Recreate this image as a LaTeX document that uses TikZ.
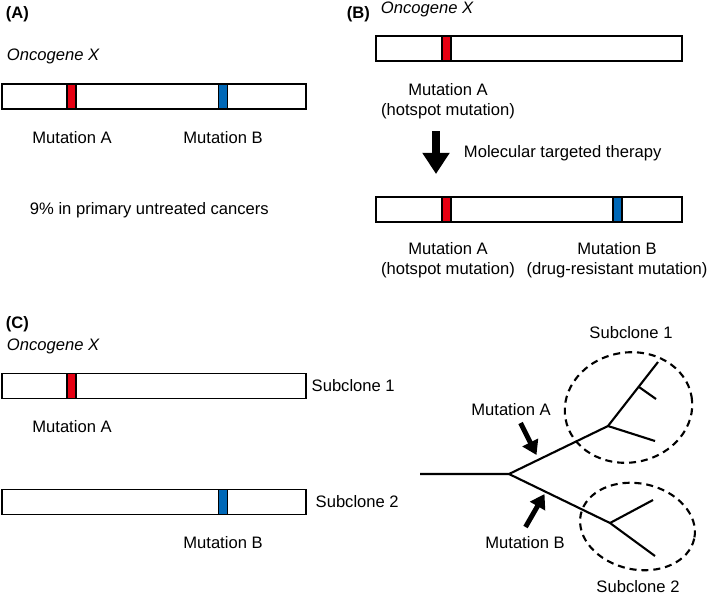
\documentclass[tikz,border=0pt]{standalone}
\usepackage{fontspec}
\setmainfont{Liberation Sans}
\usetikzlibrary{positioning}
\usetikzlibrary{arrows.meta}
\definecolor{mutred}{RGB}{230,0,18}
\definecolor{mutblue}{RGB}{0,104,183}
\newcommand\diagfont{\fontsize{11.8}{14.2}\selectfont}

\begin{document}
\begin{tikzpicture}[
      x=0.025cm, y=-0.025cm,
      every node/.style={font=\diagfont},
      gene/.style={draw,rectangle,line width=1pt,inner sep=0pt,minimum height=0.625cm},
      stripe/.style={draw,rectangle,line width=1pt,inner sep=0pt,minimum width=0.225cm,minimum height=0.625cm},
      lbl/.style={anchor=base},
      panel/.style={anchor=base west,font=\diagfont\bfseries},
      gname/.style={anchor=base west,font=\diagfont\itshape},
      branch/.style={line width=1.5pt},
      clone/.style={line width=1.5pt,dash pattern=on 5pt off 3.5pt},
      hit/.style={line width=3.5pt,-{Triangle[width=0.42cm,length=0.35cm]}},
      therapy/.style={line width=5.7pt,-{Triangle[width=0.65cm,length=0.53cm]}},
      node distance=1cm]
      \useasboundingbox (0,0) rectangle (709,595);

      % (A)
      \node[panel] (pA) at (1,18) {(A)};
      \node[gname] (gA) at (2,60) {Oncogene X};
      \node[gene,minimum width=7.6cm] (barA) at (154,96.5) {};
      \node[stripe,fill=mutred]  (redA)  at (71.5,96.5) {};
      \node[stripe,fill=mutblue] (blueA) at (223,96.5) {};
      \node[lbl] (mutAa) at (72,143)  {Mutation A};
      \node[lbl] (mutAb) at (223,143) {Mutation B};
      \node[anchor=base west] (freq) at (25,214) {9\% in primary untreated cancers};

      % (B)
      \node[panel] (pB) at (342,18) {(B)};
      \node[gname] (gB) at (376,13.5) {Oncogene X};
      \node[gene,minimum width=7.65cm] (barB1) at (529,48.5) {};
      \node[stripe,fill=mutred] (redB1) at (446.5,48.5) {};
      \node[align=center] (mutB1) at (448,101) {Mutation A\\(hotspot mutation)};
      \node[anchor=base west] (ther) at (459,157) {Molecular targeted therapy};
      \node[gene,minimum width=7.65cm] (barB2) at (529,209.5) {};
      \node[stripe,fill=mutred]  (redB2)  at (446.5,209.5) {};
      \node[stripe,fill=mutblue] (blueB2) at (617.5,209.5) {};
      \node[align=center] (mutB2a) at (448,260) {Mutation A\\(hotspot mutation)};
      \node[align=center] (mutB2b) at (617,260) {Mutation B\\(drug-resistant mutation)};
      \coordinate (thtop) at (436,131);
      \coordinate (thtip) at (436,174);
      \draw[therapy] (thtop) -- (thtip);

      % (C)
      \node[panel] (pC) at (1,328) {(C)};
      \node[gname] (gC) at (2,350) {Oncogene X};
      \node[gene,minimum width=7.6cm] (barC1) at (154,386) {};
      \node[stripe,fill=mutred] (redC1) at (71.5,386) {};
      \node[right=0pt of barC1] (subC1) {Subclone 1};
      \node[lbl] (mutC1) at (72,432) {Mutation A};
      \node[gene,minimum width=7.6cm] (barC2) at (154,502) {};
      \node[stripe,fill=mutblue] (blueC2) at (223,502) {};
      \node[right=0.1cm of barC2] (subC2) {Subclone 2};
      \node[lbl] (mutC2) at (223,548) {Mutation B};

      % Tree
      \coordinate (root)   at (420,474);
      \coordinate (fork)   at (509,474);
      \coordinate (forkA)  at (608,426);
      \coordinate (leafA1) at (658,362);
      \coordinate (twigA)  at (639,387);
      \coordinate (leafA2) at (656,399);
      \coordinate (leafA3) at (655,441);
      \coordinate (forkB)  at (610,523);
      \coordinate (leafB1) at (653,500);
      \coordinate (leafB2) at (655,556);
      \draw[branch] (root) -- (fork) -- (forkA) -- (leafA1);
      \draw[branch] (twigA) -- (leafA2);
      \draw[branch] (forkA) -- (leafA3);
      \draw[branch] (fork) -- (forkB) -- (leafB2);
      \draw[branch] (forkB) -- (leafB1);
      \draw[clone,rotate around={10:(628.5,407.5)}] (628.5,407.5) ellipse [x radius=64, y radius=55];
      \draw[clone,rotate around={-12:(637.5,526.5)}] (637.5,526.5) ellipse [x radius=58, y radius=43];
      \node[lbl] (tsub1) at (631,338) {Subclone 1};
      \node[lbl] (tsub2) at (638,592) {Subclone 2};
      \node[lbl] (tmutA) at (511,415) {Mutation A};
      \node[lbl] (tmutB) at (525,548) {Mutation B};

      % Arrows
      \coordinate (hitAtail) at (520.5,423);
      \coordinate (hitAtip)  at (536.5,455);
      \coordinate (hitBtail) at (525.5,527);
      \coordinate (hitBtip)  at (544.5,494);
      \draw[hit] (hitAtail) -- (hitAtip);
      \draw[hit] (hitBtail) -- (hitBtip);

    \end{tikzpicture}
\end{document}
